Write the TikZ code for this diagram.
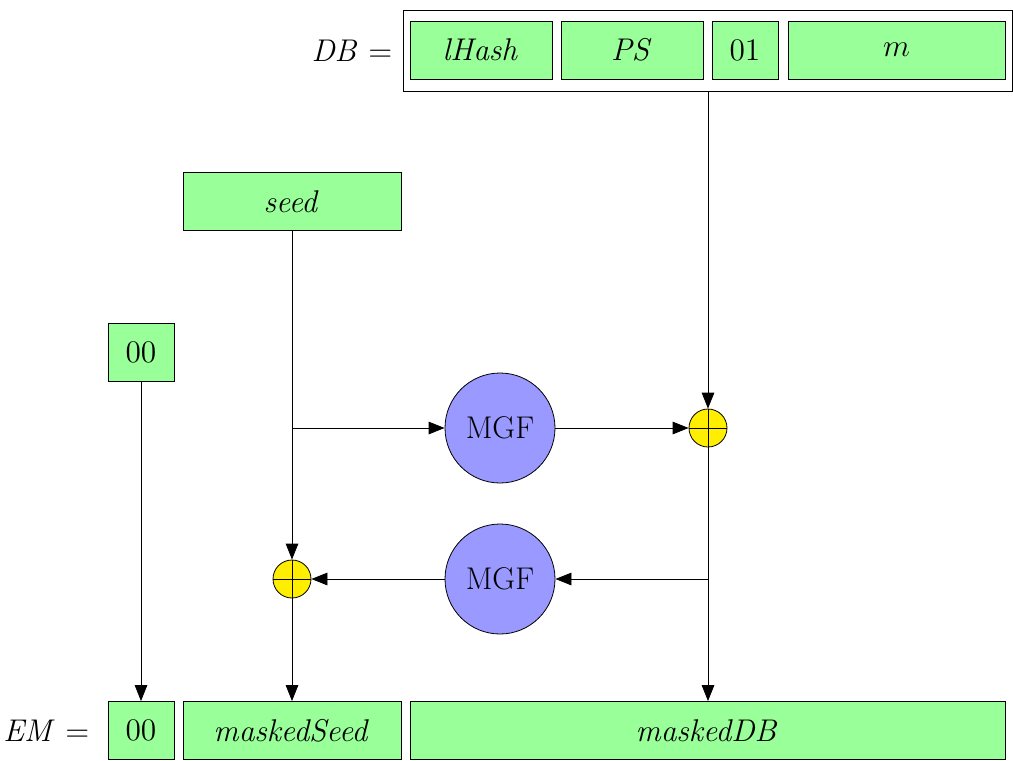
\RequirePackage{fix-cm}
\documentclass[tikz,border=0pt]{standalone}
\usetikzlibrary{arrows.meta}
\definecolor{boxgreen}{RGB}{153,255,153}
\definecolor{mgfblue}{RGB}{153,153,255}
\definecolor{xoryellow}{RGB}{255,238,0}
\tikzset{field/.style={draw, fill=boxgreen, inner sep=0pt, minimum height=29pt},
  mgf/.style={draw, circle, fill=mgfblue, inner sep=0pt, minimum size=55pt},
  xor/.style={draw, circle, fill=xoryellow, inner sep=0pt, minimum size=19pt,
    path picture={\draw (path picture bounding box.north) -- (path picture bounding box.south)
      (path picture bounding box.west) -- (path picture bounding box.east);}},
  flow/.style={-{Triangle[length=8pt,width=6.3pt]}}}
\begin{document}
\begin{tikzpicture}[x=0.5pt, y=-0.5pt, font=\fontsize{15.7}{19}\selectfont]
      \useasboundingbox (0,0) rectangle (1013,761);
      % DB = lHash || PS || 01 || m
      \node [draw, minimum width=304.5pt, minimum height=40.5pt] (db) at (707.5,50.5) {};
      \node [field, minimum width=71pt] (lhash) at (481,50) {$\mathit{lHash}$};
      \node [field, minimum width=71pt] (ps) at (632,50) {$\mathit{PS}$};
      \node [field, minimum width=33pt] (one) at (745,50) {$01$};
      \node [field, minimum width=108.5pt] (msg) at (896.5,50) {$m$};
      \node [anchor=east, inner sep=0pt, xshift=-5pt] at (db.west) {$\mathit{DB} =$};

      \node [field, minimum width=109pt] (seed) at (292,201.5) {$\mathit{seed}$};
      \node [field, minimum width=33pt] (zero) at (141,352.5) {$00$};
      \node [mgf] (mgf1) at (500,428) {MGF};
      \node [xor] (xor1) at (708,428) {};
      \node [mgf] (mgf2) at (500,579) {MGF};
      \node [xor] (xor2) at (292,579) {};

      % EM = 00 || maskedSeed || maskedDB
      \node [field, minimum width=33pt] (emzero) at (141,730.5) {$00$};
      \node [field, minimum width=109pt] (mseed) at (292,730.5) {$\mathit{maskedSeed}$};
      \node [field, minimum width=297.5pt] (mdb) at (707.5,730.5) {$\mathit{maskedDB}$};
      \node [anchor=east, inner sep=0pt, xshift=-9pt] at (emzero.west) {$\mathit{EM} =$};

      \draw [flow] (db.south -| xor1) -- (xor1);
      \draw [flow] (seed) -- (xor2);
      \draw [flow] (seed |- mgf1) -- (mgf1);
      \draw [flow] (mgf1) -- (xor1);
      \draw [flow] (xor1) -- (xor1 |- mdb.north);
      \draw [flow] (xor1 |- mgf2) -- (mgf2);
      \draw [flow] (mgf2) -- (xor2);
      \draw [flow] (xor2) -- (mseed);
      \draw [flow] (zero) -- (emzero);
    \end{tikzpicture}
\end{document}
